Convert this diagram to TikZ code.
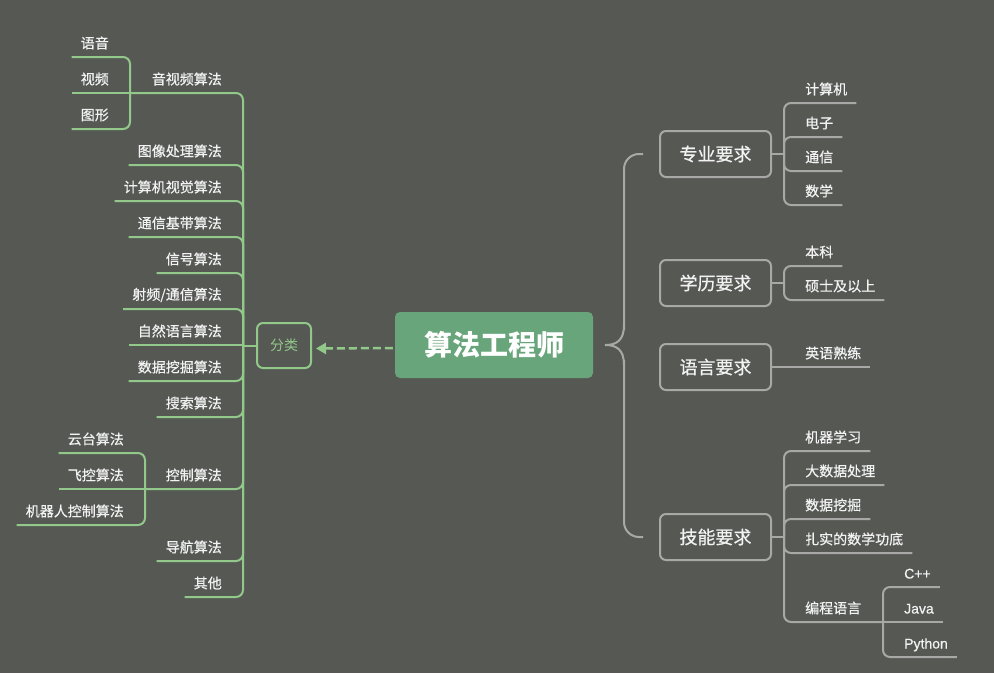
\documentclass[tikz,border=0pt]{standalone}
\usepackage{fontspec}
\setmainfont{Noto Sans CJK SC}
\newfontfamily\cjkm[FakeBold=0.6]{Noto Sans CJK SC}
\newfontfamily\latm[FakeBold=0.6]{Liberation Sans}
\usetikzlibrary{arrows.meta}
\definecolor{bgc}{RGB}{86,88,84}
\definecolor{glc}{RGB}{146,200,138}
\definecolor{gyc}{RGB}{168,168,166}
\definecolor{cgc}{RGB}{104,165,122}
\definecolor{txc}{RGB}{242,242,242}
\tikzset{
  glink/.style={draw=glc, line width=2pt, rounded corners=7pt},
  gylink/.style={draw=gyc, line width=2pt, rounded corners=7pt},
  lbl/.style={text=txc, font=\fontsize{14}{16}\selectfont\cjkm, inner sep=0pt},
  latlbl/.style={text height=11pt, text depth=0pt},
  rbox/.style={draw=gyc, line width=2pt, rounded corners=6pt, minimum width=111pt,
    minimum height=46pt, text=txc, font=\fontsize{18}{20}\selectfont\cjkm, inner sep=0pt},
}
% right leaf: name, trunk x, parent y, child y, text
\newcommand\rleaf[5]{%
  \node[lbl, anchor=west] (#1) at (#2+21, #4-14) {#5};
  \draw[gylink] (#2,#3) -- (#2,#4) -- ([shift={(9pt,-14pt)}]#1.east);
}
\newcommand\rleafs[4]{%
  \node[lbl, anchor=west] (#1) at (#2+21, #3-14) {#4};
  \draw[gylink] (#2,#3) -- ([shift={(9pt,-14pt)}]#1.east);
}
\newcommand\lleaf[5]{%
  \node[lbl, anchor=east] (#1) at (#2-21, #4-14) {#5};
  \draw[glink] (#2,#3) -- (#2,#4) -- ([shift={(-9pt,-14pt)}]#1.west);
}
\newcommand\lleafs[4]{%
  \node[lbl, anchor=east] (#1) at (#2-21, #3-14) {#4};
  \draw[glink] (#2,#3) -- ([shift={(-9pt,-14pt)}]#1.west);
}
\begin{document}
\begin{tikzpicture}[x=1pt,y=-1pt]
\fill[bgc] (0,0) rectangle (994,673);
\useasboundingbox (0,0) rectangle (994,673);

% central node
\node[fill=cgc, rounded corners=5pt, minimum width=198pt, minimum height=66pt, inner sep=0pt,
  text=white, font=\fontsize{28}{30}\selectfont\bfseries] (c) at (494,345) {算法工程师};

% classification node
\node[draw=glc, line width=2pt, rounded corners=6pt, minimum width=54pt, minimum height=45pt,
  inner sep=0pt, text=glc, font=\fontsize{14}{16}\selectfont] (fl) at (284,345.5) {分类};
\draw[glc, line width=2.5pt, dash pattern=on 8pt off 4pt, -{Triangle[length=10pt,width=11pt]}]
  ([shift={(-2pt,-3pt)}]c.west) -- ([shift={(4pt,-3pt)}]fl.east);
\draw[glink] (fl.west) -- (243,345.5);

% ---- left tree ----
\node[lbl, anchor=east] (avs) at (222,79) {音视频算法};
\coordinate (avst) at (130,93);
\draw[glink] (243,345) -- (243,93) -- (avst);
\lleaf{yy}{130}{93}{57}{语音}
\lleafs{sp}{130}{93}{视频}
\lleaf{tx}{130}{93}{129}{图形}

\lleaf{a1}{243}{345}{165}{图像处理算法}
\lleaf{a2}{243}{345}{201}{计算机视觉算法}
\lleaf{a3}{243}{345}{237}{通信基带算法}
\lleaf{a4}{243}{345}{273}{信号算法}
\lleaf{a5}{243}{345}{309}{射频/通信算法}
\lleafs{a6}{243}{345}{自然语言算法}
\lleaf{a7}{243}{345}{381}{数据挖掘算法}
\lleaf{a8}{243}{345}{417}{搜索算法}

\node[lbl, anchor=east] (ctl) at (222,475) {控制算法};
\coordinate (ctlt) at (145,489);
\draw[glink] (243,345) -- (243,489) -- (ctlt);
\lleaf{b1}{145}{489}{453}{云台算法}
\lleafs{b2}{145}{489}{飞控算法}
\lleaf{b3}{145}{489}{525}{机器人控制算法}

\lleaf{a9}{243}{345}{561}{导航算法}
\lleaf{a10}{243}{345}{597}{其他}

% ---- right brace ----
\draw[gyc, line width=2pt, rounded corners=15pt] (643,154) -- (624,154) -- (624,330);
\draw[gyc, line width=2pt] (624,325) .. controls (624,341) and (616,345) .. (605,345)
  .. controls (616,345) and (624,349) .. (624,365);
\draw[gyc, line width=2pt, rounded corners=15pt] (624,360) -- (624,537) -- (643,537);

% ---- right boxes ----
\node[rbox] (zy) at (715.5,154) {专业要求};
\node[rbox] (xl) at (715.5,283) {学历要求};
\node[rbox] (yy2) at (715.5,367) {语言要求};
\node[rbox] (jn) at (715.5,537) {技能要求};

\draw[gylink] (zy.east) -- (784,154);
\rleaf{r1}{784}{154}{103}{计算机}
\rleaf{r2}{784}{154}{137}{电子}
\rleaf{r3}{784}{154}{171}{通信}
\rleaf{r4}{784}{154}{205}{数学}

\draw[gylink] (xl.east) -- (784,283);
\rleaf{s1}{784}{283}{266}{本科}
\rleaf{s2}{784}{283}{300}{硕士及以上}

\node[lbl, anchor=west] (t1) at (805,353) {英语熟练};
\draw[gylink] (yy2.east) -- ([shift={(9pt,-14pt)}]t1.east);

\draw[gylink] (jn.east) -- (784,537);
\rleaf{u1}{784}{537}{451}{机器学习}
\rleaf{u2}{784}{537}{485}{大数据处理}
\rleaf{u3}{784}{537}{519}{数据挖掘}
\rleaf{u4}{784}{537}{553}{扎实的数学功底}
\node[lbl, anchor=west] (bc) at (805,608) {编程语言};
\coordinate (bct) at (883,622);
\draw[gylink] (784,537) -- (784,622) -- (bct);
\begin{scope}[every node/.append style={latlbl}]
\rleaf{v1}{883}{622}{587}{\latm C++}
\rleafs{v2}{883}{622}{\latm Java}
\rleaf{v3}{883}{622}{657}{\latm Python}
\end{scope}
\end{tikzpicture}
\end{document}
